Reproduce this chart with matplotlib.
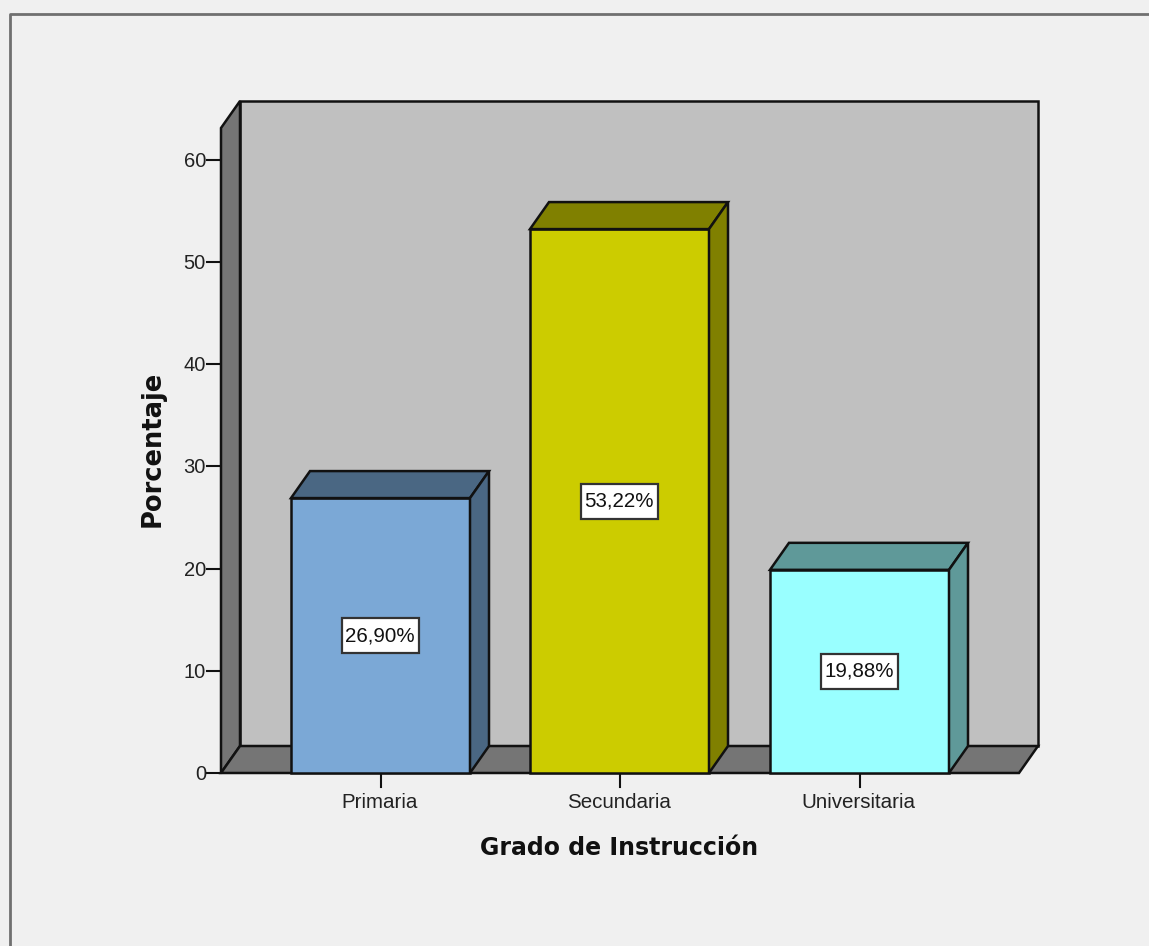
import matplotlib
matplotlib.use("Agg")
import matplotlib.pyplot as plt
from matplotlib.patches import Polygon

categories = ["Primaria", "Secundaria", "Universitaria"]
values = [26.90, 53.22, 19.88]
labels = ["26,90%", "53,22%", "19,88%"]
front_colors = ["#7ba8d6", "#cccc00", "#99ffff"]
top_colors = ["#4a6783", "#808000", "#5f9999"]
y_ticks = [0, 10, 20, 30, 40, 50, 60]

W, H = 1149, 946
fig = plt.figure(figsize=(W / 100, H / 100), dpi=100, facecolor="#f0f0f0")
plt.rcParams["font.family"] = ["Liberation Sans", "DejaVu Sans"]

# whole figure in pixel coordinates, y down
canvas = fig.add_axes([0, 0, 1, 1])
canvas.set_xlim(0, W)
canvas.set_ylim(H, 0)
canvas.axis("off")

# depth of the 3d effect
dx, dy = 19, 27
left, right = 221, 1019
y0, px_per_unit = 773, 10.22
top = 128
edge = "#111111"
text_col = "#222222"


def to_y(v):
    return y0 - v * px_per_unit


def poly(pts, color, z=2, lw=1.8, ec=edge):
    canvas.add_patch(Polygon(pts, closed=True, facecolor=color, edgecolor=ec, linewidth=lw, zorder=z))


# outer frame of the window
canvas.plot([10, 10, W], [H, 14, 14], color="#707070", lw=2)

# back wall, side wall, floor
poly([(left + dx, top - dy), (right + dx, top - dy), (right + dx, y0 - dy), (left + dx, y0 - dy)], "#c0c0c0")
poly([(left, top), (left + dx, top - dy), (left + dx, y0 - dy), (left, y0)], "#757575")
poly([(left, y0), (left + dx, y0 - dy), (right + dx, y0 - dy), (right, y0)], "#757575")

# bars
bar_lefts = [291, 530, 770]
bar_w = 179
box_w, box_h = 77, 35
for i, v in enumerate(values):
    x = bar_lefts[i]
    y = to_y(v)
    poly([(x, y0), (x + bar_w, y0), (x + bar_w, y), (x, y)], front_colors[i], z=3)
    poly([(x, y), (x + dx, y - dy), (x + bar_w + dx, y - dy), (x + bar_w, y)], top_colors[i], z=3)
    poly([(x + bar_w, y0), (x + bar_w + dx, y0 - dy), (x + bar_w + dx, y - dy), (x + bar_w, y)], top_colors[i], z=3)

    # value label in its white box
    cx, cy = x + bar_w / 2, to_y(v / 2)
    poly([(cx - box_w / 2, cy - box_h / 2), (cx + box_w / 2, cy - box_h / 2),
          (cx + box_w / 2, cy + box_h / 2), (cx - box_w / 2, cy + box_h / 2)], "white", z=4, lw=1.6, ec="#333333")
    canvas.text(cx - 0.5, cy, labels[i], ha="center", va="center", fontsize=14.8, color="#111111", zorder=5)

    canvas.plot([x + bar_w / 2] * 2, [y0, y0 + 14], color=edge, lw=1.5, zorder=1)
    canvas.text(x + bar_w / 2 - 1, 802, categories[i], ha="center", va="center", fontsize=14.8, color=text_col)

# y axis ticks
for t in y_ticks:
    canvas.plot([left - 14, left], [to_y(t)] * 2, color=edge, lw=1.5, zorder=1)
    canvas.text(left - 15, to_y(t) + 1.5, str(t), ha="right", va="center", fontsize=14.5, color=text_col)

canvas.text(153, 449, "Porcentaje", rotation=90, ha="center", va="center", fontsize=18.5, fontweight="bold",
            color="#111111", family="DejaVu Sans")
canvas.text(619.5, 848, "Grado de Instrucción", ha="center", va="center", fontsize=17, fontweight="bold",
            color="#111111", family="DejaVu Sans")

fig.savefig("out.png", dpi=100, facecolor=fig.get_facecolor())
